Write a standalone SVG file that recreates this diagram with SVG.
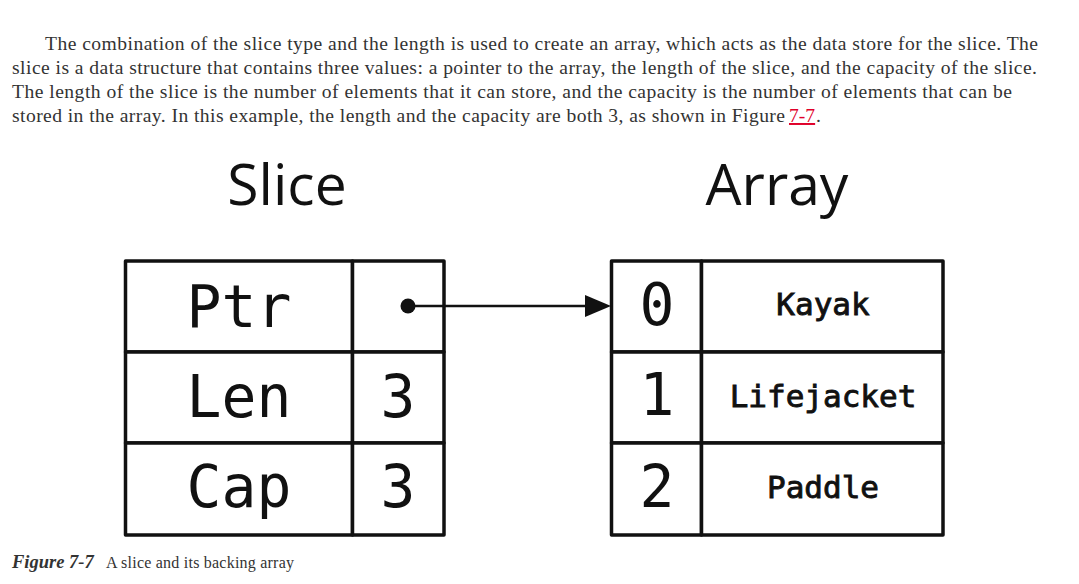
<svg xmlns="http://www.w3.org/2000/svg" width="1079" height="584" viewBox="0 0 1079 584">
<defs>
<style>
.body{font-family:"Liberation Serif",serif;font-size:19.6px;fill:#333;}
.title{font-family:"Open Sans","Noto Sans",sans-serif;font-size:57px;fill:#111;text-anchor:middle;}
.big{font-family:"DejaVu Sans Mono","Liberation Mono",monospace;font-size:58px;fill:#111;text-anchor:middle;}
.small{font-family:"DejaVu Sans Mono","Liberation Mono",monospace;font-size:31px;fill:#111;stroke:#111;stroke-width:0.9;text-anchor:middle;}
.cell{fill:#fff;stroke:#111;stroke-width:3.5;stroke-linejoin:round;}
.conn{stroke:#111;stroke-width:2.5;fill:none;}
</style>
</defs>
<rect width="1079" height="584" fill="#fff"/>
<g id="paragraph">
<text class="body" x="45" y="50" textLength="993" lengthAdjust="spacing">The combination of the slice type and the length is used to create an array, which acts as the data store for the slice. The</text>
<text class="body" x="12" y="74" textLength="1025" lengthAdjust="spacing">slice is a data structure that contains three values: a pointer to the array, the length of the slice, and the capacity of the slice.</text>
<text class="body" x="12" y="98" textLength="1000" lengthAdjust="spacing">The length of the slice is the number of elements that it can store, and the capacity is the number of elements that can be</text>
<text class="body" x="12" y="122" textLength="773" lengthAdjust="spacing">stored in the array. In this example, the length and the capacity are both 3, as shown in Figure</text>
<text class="body" x="789" y="122" style="fill:#e0002a" text-decoration="underline">7-7</text>
<text class="body" x="816" y="122">.</text>
</g>
<g id="titles">
<text class="title" x="287" y="205">Slice</text>
<text class="title" x="777" y="205">Array</text>
</g>
<g id="slice">
<rect class="cell" x="125.5" y="261" width="227" height="91"/>
<rect class="cell" x="352.5" y="261" width="91.5" height="91"/>
<rect class="cell" x="125.5" y="352" width="227" height="91"/>
<rect class="cell" x="352.5" y="352" width="91.5" height="91"/>
<rect class="cell" x="125.5" y="443" width="227" height="92"/>
<rect class="cell" x="352.5" y="443" width="91.5" height="92"/>
<text class="big" x="239" y="327">Ptr</text>
<text class="big" x="239" y="417">Len</text>
<text class="big" x="239" y="507">Cap</text>
<text class="big" x="398" y="417">3</text>
<text class="big" x="398" y="507">3</text>
</g>
<g id="array">
<rect class="cell" x="611.5" y="261" width="90" height="91"/>
<rect class="cell" x="701.5" y="261" width="241.5" height="91"/>
<rect class="cell" x="611.5" y="352" width="90" height="91"/>
<rect class="cell" x="701.5" y="352" width="241.5" height="91"/>
<rect class="cell" x="611.5" y="443" width="90" height="92"/>
<rect class="cell" x="701.5" y="443" width="241.5" height="92"/>
<text class="big" x="657" y="325">0</text>
<text class="big" x="657" y="415">1</text>
<text class="big" x="657" y="507">2</text>
<text class="small" x="823" y="315">Kayak</text>
<text class="small" x="823" y="407">Lifejacket</text>
<text class="small" x="823" y="498">Paddle</text>
</g>
<g id="connectors">
<circle cx="408" cy="306" r="7.5" fill="#111"/>
<line class="conn" x1="408" y1="306" x2="586" y2="306"/>
<path d="M585,295 L611,306 L585,317 z" fill="#111"/>
</g>
<g id="caption">
<text x="12" y="568" style="font-family:'Liberation Serif',serif;font-size:18.5px;font-weight:bold;font-style:italic;fill:#333">Figure 7-7</text>
<text x="106" y="568" style="font-family:'Liberation Serif',serif;font-size:16px;fill:#333" textLength="188" lengthAdjust="spacing">A slice and its backing array</text>
</g>
</svg>
